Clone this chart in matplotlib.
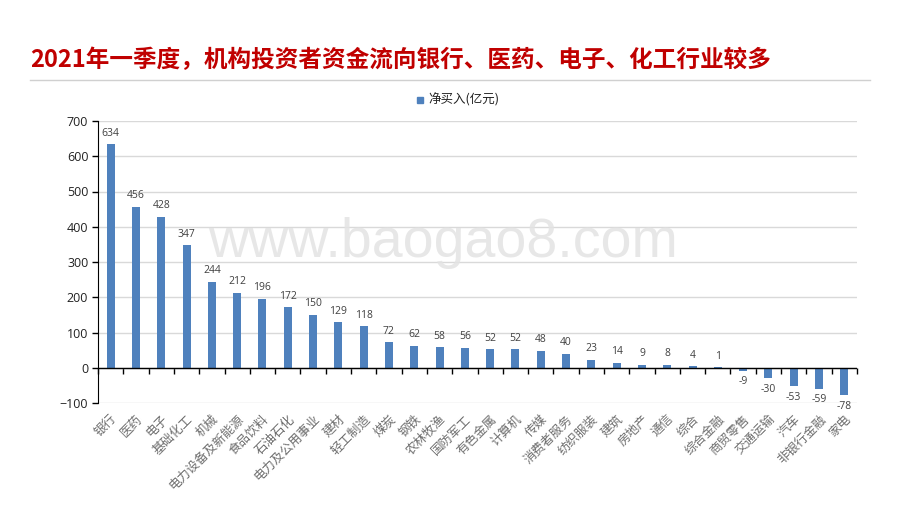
import matplotlib
matplotlib.use("Agg")
import matplotlib.pyplot as plt
import numpy as np

plt.rcParams['font.family'] = ['Noto Sans CJK SC', 'DejaVu Sans']

# data
categories = ['银行', '医药', '电子', '基础化工', '机械', '电力设备及新能源', '食品饮料',
              '石油石化', '电力及公用事业', '建材', '轻工制造', '煤炭', '钢铁', '农林牧渔',
              '国防军工', '有色金属', '计算机', '传媒', '消费者服务', '纺织服装', '建筑',
              '房地产', '通信', '综合', '综合金融', '商贸零售', '交通运输', '汽车',
              '非银行金融', '家电']
net_buy = [634, 456, 428, 347, 244, 212, 196, 172, 150, 129, 118, 72, 62, 58, 56,
           52, 52, 48, 40, 23, 14, 9, 8, 4, 1, -9, -30, -53, -59, -78]
y_ticks = [-100, 0, 100, 200, 300, 400, 500, 600, 700]

title = '2021年一季度，机构投资者资金流向银行、医药、电子、化工行业较多'
series_name = '净买入(亿元)'
watermark = 'www.baogao8.com'

bar_color = '#4F81BD'

fig = plt.figure(figsize=(9.2, 5.18), dpi=100)
fig.patch.set_facecolor('white')

# title + rule
fig.text(30 / 920, 1 - 60 / 518, title, fontsize=17, fontweight='bold',
         color='#C00000', ha='left', va='center')
fig.add_artist(plt.Line2D([30 / 920, 870 / 920], [1 - 80 / 518, 1 - 80 / 518],
                          color='#D0D0D0', lw=1))

ax = fig.add_axes([98 / 920, 1 - 403 / 518, (857 - 98) / 920, (403 - 121) / 518])
x = np.arange(len(categories))
bars = ax.bar(x, net_buy, width=0.32, color=bar_color, zorder=3)

ax.set_xlim(-0.5, len(categories) - 0.5)
ax.set_ylim(y_ticks[0], y_ticks[-1])
ax.set_yticks(y_ticks)
ax.yaxis.grid(True, color='#D9D9D9', lw=1, zorder=0)
ax.tick_params(axis='y', length=4, width=1, color='black', labelsize=9,
               labelcolor='#222222', pad=3)
for lab in ax.get_yticklabels():
    lab.set_family(['Open Sans', 'DejaVu Sans'])

for s in ['top', 'right', 'bottom']:
    ax.spines[s].set_visible(False)
ax.spines['left'].set_color('black')

# zero line with category boundary ticks
ax.axhline(0, color='black', lw=1, zorder=4)
zero_frac = (0 - y_ticks[0]) / (y_ticks[-1] - y_ticks[0])
sec = ax.secondary_xaxis(zero_frac)
sec.set_xticks(np.arange(len(categories) + 1) - 0.5)
sec.set_xticklabels([])
sec.tick_params(length=4, width=1, color='black', direction='out')
sec.spines['bottom'].set_visible(False)

ax.set_xticks(x)
ax.set_xticklabels(categories, rotation=45, ha='right', va='top',
                   rotation_mode='anchor', fontsize=9, color='#6E6E6E')
ax.tick_params(axis='x', length=0, pad=7)

# data labels
for xi, v in zip(x, net_buy):
    if v >= 0:
        ax.annotate(str(v), (xi, v), xytext=(0, 4), textcoords='offset points',
                    ha='center', va='bottom', fontsize=7.5, color='#404040',
                    family=['Open Sans', 'DejaVu Sans'])
    else:
        ax.annotate(str(v), (xi, v), xytext=(0, -4), textcoords='offset points',
                    ha='center', va='top', fontsize=7.5, color='#404040',
                    family=['Open Sans', 'DejaVu Sans'])

# legend
fig.add_artist(plt.Rectangle((417 / 920, 1 - 103 / 518), 6 / 920, 6 / 518,
                             color=bar_color, transform=fig.transFigure))
fig.text(428 / 920, 1 - 100 / 518, series_name, fontsize=9, color='#222222',
         ha='left', va='center')

# watermark
fig.text(443 / 920, 1 - 243 / 518, watermark, fontsize=40, color='#E3E3E3',
         ha='center', va='center', family=['Liberation Sans', 'DejaVu Sans'],
         zorder=10, alpha=0.85)

fig.savefig('out.png', dpi=100)
